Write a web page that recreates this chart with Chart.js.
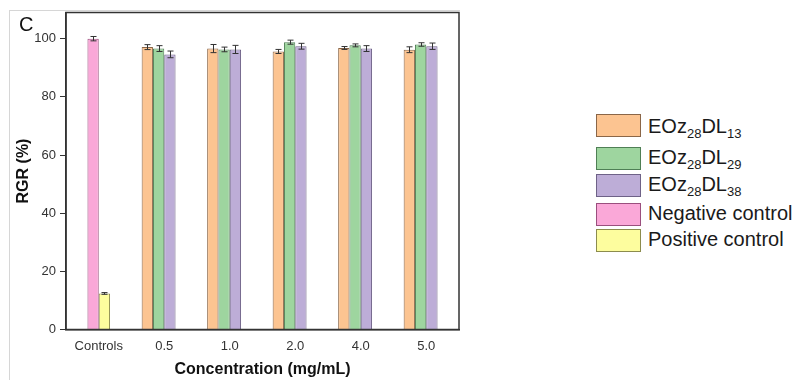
<!DOCTYPE html>
<html>
<head>
<meta charset="utf-8">
<script src="https://cdn.jsdelivr.net/npm/chart.js@4/dist/chart.umd.min.js"></script>
<style>
  html, body { margin: 0; padding: 0; background: #fff; }
  body { width: 793px; height: 380px; position: relative; overflow: hidden; font-family: 'Liberation Sans', Arial, sans-serif; }
  #panel { position: absolute; left: 9px; top: 10px; width: 450px; height: 380px; border-top: 1px solid #d6d6d6; border-left: 1px solid #d6d6d6; }
  #wrap { position: absolute; left: 0; top: 0; width: 470px; height: 380px; }
  #tag { position: absolute; left: 19px; top: 13px; font-size: 20px; color: #111; }
  .lg-box { position: absolute; left: 596px; width: 43px; height: 21px; border: 1px solid #777; }
  .lg-txt { position: absolute; left: 648px; font-size: 20px; line-height: 22px; color: #1a1a1a; white-space: nowrap; }
  .lg-txt sub { font-size: 13px; vertical-align: -5px; line-height: 0; }
</style>
</head>
<body>
<div id="panel"></div>
<div id="wrap"><canvas id="c"></canvas></div>
<div id="tag">C</div>
<div id="legend"></div>
<script>
// ---- data ----
const categories = ['Controls', '0.5', '1.0', '2.0', '4.0', '5.0'];
const eoz13 = [null, 97.1, 96.6, 95.6, 96.8, 96.2];
const eoz13Err = [null, 0.85, 1.4, 0.7, 0.5, 1.0];
const eoz29 = [null, 96.6, 96.3, 98.8, 97.7, 98.0];
const eoz29Err = [null, 1.0, 0.8, 0.7, 0.5, 0.6];
const eoz38 = [null, 94.6, 96.3, 97.4, 96.6, 97.4];
const eoz38Err = [null, 1.15, 1.4, 1.0, 1.0, 1.1];
const negativeCtrl = [100, null, null, null, null, null];
const negativeErr = [0.75, null, null, null, null, null];
const positiveCtrl = [12.4, null, null, null, null, null];
const positiveErr = [0.3, null, null, null, null, null];
const yTicks = [0, 20, 40, 60, 80, 100];

const seriesNames = [
  ['EOz', '28', 'DL', '13'],
  ['EOz', '28', 'DL', '29'],
  ['EOz', '28', 'DL', '38'],
  ['Negative control'],
  ['Positive control']
];
const fills = ['#FCC491', '#9ED59F', '#BDADD7', '#FAA8D8', '#FDFD9E'];
const edges = ['#8a6648', '#4f7f55', '#6e6287', '#9a4f7e', '#8c8c4e'];

// ---- legend (HTML for subscripts) ----
const lgBoxTops = [114, 146.5, 174, 203, 228.5];
const lgTxtTops = [114.5, 146, 172.5, 201.5, 228];
const legend = document.getElementById('legend');
seriesNames.forEach((parts, i) => {
  const b = document.createElement('div');
  b.className = 'lg-box';
  b.style.top = lgBoxTops[i] + 'px';
  b.style.background = fills[i];
  b.style.borderColor = edges[i];
  legend.appendChild(b);
  const t = document.createElement('div');
  t.className = 'lg-txt';
  t.style.top = lgTxtTops[i] + 'px';
  if (parts.length === 4) {
    t.innerHTML = parts[0] + '<sub>' + parts[1] + '</sub>' + parts[2] + '<sub>' + parts[3] + '</sub>';
  } else {
    t.textContent = parts[0];
  }
  legend.appendChild(t);
});

// ---- plugins ----
const errorBars = {
  id: 'errorBars',
  afterDatasetsDraw(chart) {
    const ctx = chart.ctx;
    const ys = chart.scales.y;
    ctx.save();
    ctx.strokeStyle = '#333';
    ctx.lineWidth = 1;
    chart.data.datasets.forEach((ds, i) => {
      if (!ds.errors) return;
      const meta = chart.getDatasetMeta(i);
      meta.data.forEach((bar, j) => {
        const v = ds.data[j], e = ds.errors[j];
        if (v == null || e == null) return;
        const x = Math.round(bar.x) + 0.5;
        const yt = ys.getPixelForValue(v + e);
        const yb = ys.getPixelForValue(v - e);
        ctx.beginPath();
        ctx.moveTo(x, yt); ctx.lineTo(x, yb);
        ctx.moveTo(x - 3, yt); ctx.lineTo(x + 3, yt);
        ctx.moveTo(x - 3, yb); ctx.lineTo(x + 3, yb);
        ctx.stroke();
      });
    });
    ctx.restore();
  }
};
const frame = {
  id: 'frame',
  afterDraw(chart) {
    const a = chart.chartArea, ctx = chart.ctx;
    ctx.save();
    ctx.strokeStyle = '#333';
    ctx.lineWidth = 1.5;
    ctx.strokeRect(a.left, a.top, a.right - a.left, a.bottom - a.top);
    ctx.restore();
  }
};

const mk = (label, data, err, i, stack) => ({
  label, data, errors: err, stack,
  backgroundColor: fills[i], borderColor: edges[i], borderWidth: 1,
  borderSkipped: 'start'
});

new Chart(document.getElementById('c'), {
  type: 'bar',
  data: {
    labels: categories,
    datasets: [
      mk('EOz28DL13', eoz13, eoz13Err, 0, 's0'),
      mk('EOz28DL29', eoz29, eoz29Err, 1, 's1'),
      mk('EOz28DL38', eoz38, eoz38Err, 2, 's2'),
      mk('Negative control', negativeCtrl, negativeErr, 3, 's1'),
      mk('Positive control', positiveCtrl, positiveErr, 4, 's2'),
      { label: '', data: [null, null, null, null, null, null], stack: 's3' }
    ]
  },
  options: {
    responsive: true,
    maintainAspectRatio: false,
    animation: false,
    datasets: { bar: { categoryPercentage: 0.69, barPercentage: 1.0 } },
    layout: { padding: { left: 0, right: 11, top: 12.5, bottom: 0 } },
    plugins: { legend: { display: false }, tooltip: { enabled: false } },
    scales: {
      x: {
        grid: { display: false, drawTicks: false },
        border: { display: true, color: '#333', width: 1.5 },
        ticks: { color: '#333', padding: 9, font: { family: "'Liberation Sans', Arial", size: 13 } },
        title: { display: true, text: 'Concentration (mg/mL)', color: '#111',
                 font: { family: "'Liberation Sans', Arial", size: 16, weight: 'bold' },
                 padding: { top: 0, bottom: 1 } },
        afterFit(s) { s.height = 50.5; }
      },
      y: {
        min: 0, max: 109,
        grid: { drawOnChartArea: false, drawTicks: true, tickLength: 6, color: '#333', lineWidth: 1 },
        border: { display: true, color: '#333', width: 1.5 },
        afterBuildTicks(s) { s.ticks = yTicks.map(v => ({ value: v })); },
        ticks: { color: '#333', padding: 4, font: { family: "'Liberation Sans', Arial", size: 13 } },
        title: { display: true, text: 'RGR (%)', color: '#111',
                 font: { family: "'Liberation Sans', Arial", size: 16, weight: 'bold' },
                 padding: { top: 13.5, bottom: 0 } },
        afterFit(s) { s.width = 66; }
      }
    }
  },
  plugins: [errorBars, frame]
});
</script>
</body>
</html>
